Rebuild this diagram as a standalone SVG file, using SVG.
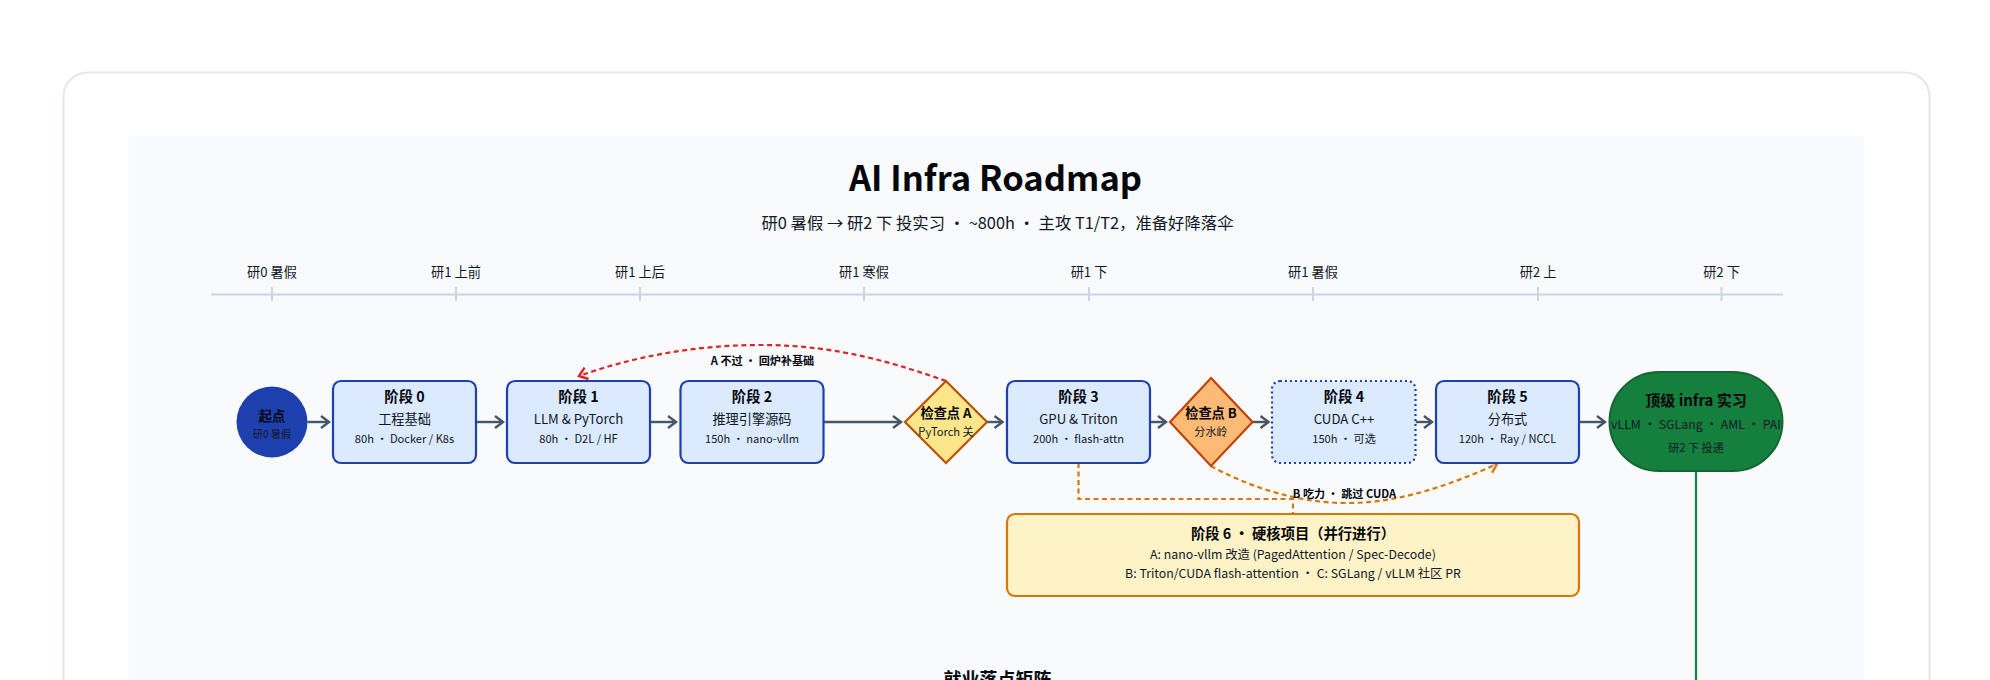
<svg xmlns="http://www.w3.org/2000/svg" width="1990" height="680" viewBox="0 0 1990 680">
<style>
text{font-family:"Noto Sans CJK SC","Noto Sans",sans-serif;text-anchor:middle;fill:#111827}
.b{font-weight:700;fill:#05070c}
.t14{font-size:14.3px}.t13{font-size:13.2px}.t12{font-size:12.35px}.t11{font-size:11.1px}.t10{font-size:10.2px}
.stage{fill:#dbeafe;stroke:#1e40af;stroke-width:2.2}
.opt{stroke-dasharray:2 3}
.tick{stroke:#cbd5e1;stroke-width:2;fill:none}
.flow{stroke:#475569;stroke-width:2.4;fill:none;marker-end:url(#ag)}
.red{stroke:#dc2626;stroke-width:2.2;fill:none;stroke-dasharray:5 3.5;marker-end:url(#ar)}
.org{stroke:#d97706;stroke-width:2.2;fill:none;stroke-dasharray:5 3.5}
</style>
<defs>
<marker id="ag" markerUnits="userSpaceOnUse" viewBox="-10 -8 12 16" refX="0" refY="0" markerWidth="12" markerHeight="16" orient="auto"><path d="M-8 -6L0 0L-8 6" fill="none" stroke="#475569" stroke-width="2.4"/></marker>
<marker id="ar" markerUnits="userSpaceOnUse" viewBox="-10 -8 12 16" refX="0" refY="0" markerWidth="12" markerHeight="16" orient="auto"><path d="M-8 -6L0 0L-8 6" fill="none" stroke="#dc2626" stroke-width="2.4"/></marker>
<marker id="ao" markerUnits="userSpaceOnUse" viewBox="-10 -8 12 16" refX="0" refY="0" markerWidth="12" markerHeight="16" orient="auto"><path d="M-8 -6L0 0L-8 6" fill="none" stroke="#d97706" stroke-width="2.4"/></marker>
</defs>
<rect width="1990" height="680" fill="#fff"/>
<rect x="63.5" y="72.5" width="1866" height="660" rx="24" fill="#fff" stroke="#e5e7eb" stroke-width="2.2"/>
<rect x="129" y="136" width="1735" height="600" fill="#f8fafc"/>
<g id="header">
<text x="995.5" y="191" class="b" style="font-size:34.6px">AI Infra Roadmap</text>
<text x="997.5" y="228.500" style="font-size:16.35px">研0 暑假 → 研2 下 投实习 · ~800h · 主攻 T1/T2，准备好降落伞</text>
</g>
<g id="timeline">
<path class="tick" d="M211 294.5H1783M272 287V301M456 287V301M640 287V301M864 287V301M1089 287V301M1313 287V301M1538 287V301M1721.5 287V301"/>
<g style="font-size:13.2px">
<text x="272" y="277">研0 暑假</text><text x="456" y="277">研1 上前</text><text x="640" y="277">研1 上后</text><text x="864" y="277">研1 寒假</text><text x="1089" y="277">研1 下</text><text x="1313" y="277">研1 暑假</text><text x="1538" y="277">研2 上</text><text x="1721.5" y="277">研2 下</text>
</g>
</g>
<g id="connectors">
<path class="flow" d="M307.5 422H329"/>
<path class="flow" d="M476 422H503"/>
<path class="flow" d="M650 422H676"/>
<path class="flow" d="M824 422H901"/>
<path class="flow" d="M987 422H1002.5"/>
<path class="flow" d="M1150 422H1166"/>
<path class="flow" d="M1252.5 422H1268.5"/>
<path class="flow" d="M1415.5 422H1432"/>
<path class="flow" d="M1579 422H1605"/>
<path class="red" d="M946 381C900 365 840 345 762 345C690 345 630 358 579 376"/>
<path class="org" d="M1078.5 463V499H1293V514"/>
<path class="org" d="M1211 466C1240 482 1290 503 1347 503C1400 503 1450 485 1497 464" marker-end="url(#ao)"/>
<path d="M1696 471V680" stroke="#15803d" stroke-width="2.2" fill="none"/>
<text x="762.5" y="365" class="b t11">A 不过 · 回炉补基础</text>
<text x="1344.5" y="498" class="b t11">B 吃力 · 跳过 CUDA</text>
</g>
<g id="start">
<circle cx="272" cy="422" r="35.5" fill="#1e40af"/>
<text x="272" y="421" class="b t13">起点</text><text x="272" y="438" class="t10">研0 暑假</text>
</g>
<g id="stage0"><rect class="stage" x="333" y="381" width="143" height="82" rx="8"/>
<text x="404.5" y="402" class="b t14">阶段 0</text><text x="404.5" y="424" class="t13">工程基础</text><text x="404.5" y="443" class="t11">80h · Docker / K8s</text></g>
<g id="stage1"><rect class="stage" x="507" y="381" width="143" height="82" rx="8"/>
<text x="578.5" y="402" class="b t14">阶段 1</text><text x="578.5" y="424" class="t13">LLM &amp; PyTorch</text><text x="578.5" y="443" class="t11">80h · D2L / HF</text></g>
<g id="stage2"><rect class="stage" x="680.5" y="381" width="143" height="82" rx="8"/>
<text x="752" y="402" class="b t14">阶段 2</text><text x="752" y="424" class="t13">推理引擎源码</text><text x="752" y="443" class="t11">150h · nano-vllm</text></g>
<g id="checkA"><path d="M946 381L987 422L946 463L905 422Z" fill="#fde68a" stroke="#b45309" stroke-width="2.2"/>
<text x="946" y="418" class="b t13">检查点 A</text><text x="946" y="436" class="t11">PyTorch 关</text></g>
<g id="stage3"><rect class="stage" x="1007" y="381" width="143" height="82" rx="8"/>
<text x="1078.5" y="402" class="b t14">阶段 3</text><text x="1078.5" y="424" class="t13">GPU &amp; Triton</text><text x="1078.5" y="443" class="t11">200h · flash-attn</text></g>
<g id="checkB"><path d="M1211 378L1252.5 422L1211 466L1170 422Z" fill="#fdba74" stroke="#c2410c" stroke-width="2.2"/>
<text x="1211" y="418" class="b t13">检查点 B</text><text x="1211" y="436" class="t11">分水岭</text></g>
<g id="stage4"><rect class="stage opt" x="1272" y="381" width="143.500" height="82" rx="8"/>
<text x="1344" y="402" class="b t14">阶段 4</text><text x="1344" y="424" class="t13">CUDA C++</text><text x="1344" y="443" class="t11">150h · 可选</text></g>
<g id="stage5"><rect class="stage" x="1436" y="381" width="143" height="82" rx="8"/>
<text x="1507.5" y="402" class="b t14">阶段 5</text><text x="1507.5" y="424" class="t13">分布式</text><text x="1507.5" y="443" class="t11">120h · Ray / NCCL</text></g>
<g id="goal"><rect x="1609.500" y="372" width="173" height="99" rx="49.500" fill="#15803d" stroke="#166534" stroke-width="2"/>
<text x="1696" y="406" class="b" style="font-size:15px">顶级 infra 实习</text><text x="1696" y="429" class="t12">vLLM · SGLang · AML · PAI</text><text x="1696" y="452" class="t11">研2 下 投递</text></g>
<g id="stage6"><rect x="1007" y="514" width="572" height="82" rx="8" fill="#fef3c7" stroke="#d97706" stroke-width="2.2"/>
<text x="1293" y="539" class="b t14">阶段 6 · 硬核项目（并行进行）</text><text x="1293" y="559" class="t12">A: nano-vllm 改造 (PagedAttention / Spec-Decode)</text><text x="1293" y="578" class="t12">B: Triton/CUDA flash-attention · C: SGLang / vLLM 社区 PR</text></g>
<text x="997.5" y="686" class="b" style="font-size:18px">就业落点矩阵</text>
</svg>
